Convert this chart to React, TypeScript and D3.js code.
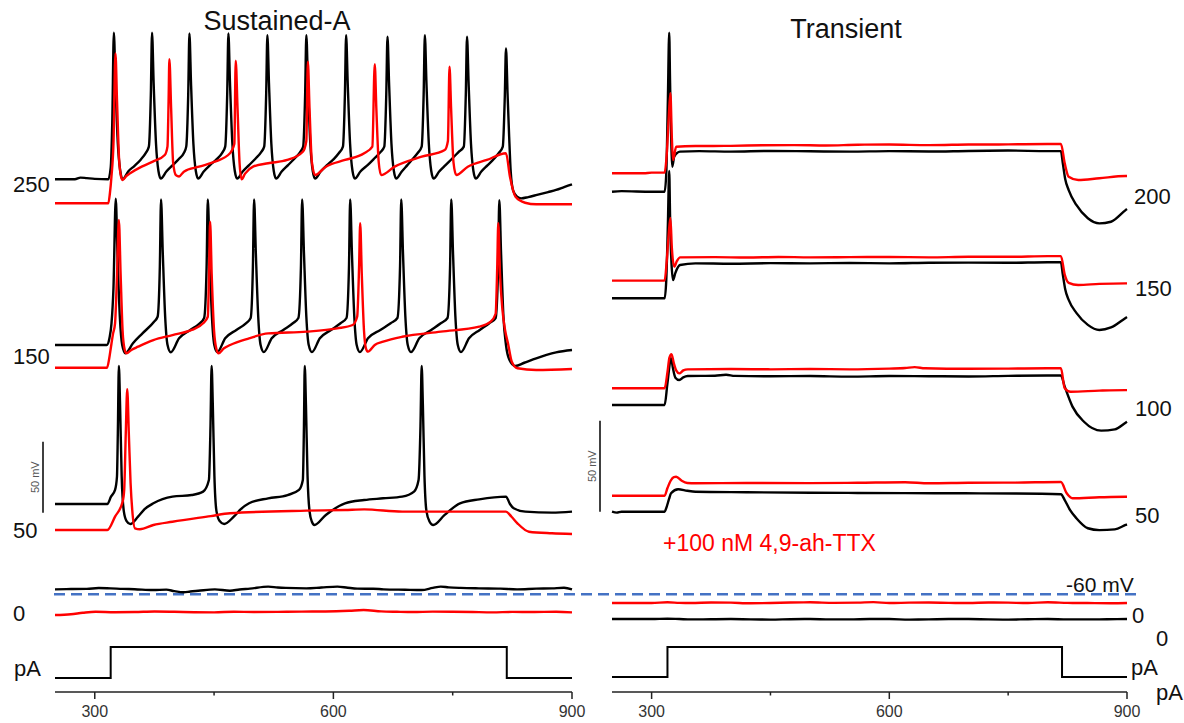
import React from "react";
import * as d3 from "d3";

type Pt = [number, number];

// ---- time axis (ms) ----
const timeDomain: [number, number] = [250, 900];
const majorTicks = [300, 600, 900];
const minorTicks = [450, 750];

// ---- current step (pA) ----
const stepLeft: Pt[] = [[250, 0], [320, 0], [320, 250], [818, 250], [818, 0], [900, 0]];
const stepRight: Pt[] = [[250, 0], [320, 0], [320, 200], [818, 200], [818, 0], [900, 0]];

// ---- labels ----
const leftSweepLabels = ["250", "150", "50", "0"];
const rightSweepLabels = ["200", "150", "100", "50", "0"];
const titles = ["Sustained-A", "Transient"];
const drugLabel = "+100 nM 4,9-ah-TTX";
const restLabel = "-60 mV";
const scaleBarMV = 50;

// ---- Sustained-A traces: [ms, mV relative to sweep offset] ----
const sustBlack250: Pt[] = [
  [250, 0], [275, 0], [282, 1.2], [290, 0.8], [300, 0.3], [317, 0], [320, 8], [322, 40], [324, 103.2],
  [326, 68], [329, 25], [332, 6], [335, 0],
  [342, 5.5], [350, 9.5], [358, 14], [364, 18.5], [368, 23], [370.5, 60], [372, 103.2],
  [374, 68], [377, 25], [380, 6], [383, 0.5],
  [390, 5.5], [398, 10], [406, 14.5], [412, 18.5], [415, 23], [417.5, 60], [419, 102.7],
  [421, 68], [424, 25], [427, 6], [430, 0.5],
  [437, 5.5], [445, 10], [453, 14], [460, 18.5], [464, 23], [466.5, 60], [468, 102.7],
  [470, 68], [473, 25], [476, 6], [479, 0.5],
  [486, 5.5], [494, 10], [502, 14.5], [509, 19], [513, 23], [515.5, 60], [517, 101.5],
  [519, 68], [522, 25], [525, 6], [528, 0.5],
  [535, 5.5], [543, 10], [551, 14.5], [558, 19], [562, 23], [564.5, 60], [566, 101.5],
  [568, 68], [571, 25], [574, 6], [577, 0.5],
  [584, 5.5], [592, 10], [600, 14], [607, 18.5], [612, 23], [614.5, 60], [616, 101.5],
  [618, 68], [621, 25], [624, 6], [627, 0.5],
  [634, 5.5], [643, 10], [652, 15], [659, 19], [664, 23], [666.5, 60], [668, 100.4],
  [670, 68], [673, 25], [676, 6], [679, 0.5],
  [686, 5.5], [693, 10], [700, 14.5], [706, 18.5], [711, 23], [713.5, 60], [715, 101.5],
  [717, 68], [720, 25], [723, 6], [726, 0.5],
  [733, 5.5], [741, 10], [750, 15], [757, 19], [764, 23], [766.5, 60], [768, 100.4],
  [770, 68], [773, 25], [776, 6], [779, 0.5],
  [786, 5.5], [794, 10], [802, 14.5], [808, 18.5], [813, 23], [815.5, 58], [817, 92.2],
  [819, 60], [821, 30], [823, 5], [826, -8], [831, -12.3], [836, -13.4], [845, -12.5],
  [856, -11], [870, -9], [880, -7.5], [890, -5.5], [900, -3.5],
];
const sustRed250: Pt[] = [
  [250, -16.9], [290, -16.9], [317, -16.9], [319, -10], [321, 2], [323.5, 25], [326, 88.7],
  [328, 55], [330.5, 15], [333, 2], [335, -0.5],
  [340, 2.5], [344.4, 4.2], [359, 8.9], [373, 12.4], [388, 17.1], [391.4, 23], [392.8, 55], [393.8, 84.5],
  [396, 50], [398.5, 12], [402, 3], [406, 2], [412, 5.4], [431, 8.9], [451, 12.4], [470, 18.3], [475.5, 25], [477.2, 83.5],
  [479.5, 50], [482, 12], [484.5, 0], [489, 4], [499, 8.9], [518, 11.3], [542, 13.6], [561.6, 19.4], [566, 27], [567.9, 82.8],
  [570, 50], [573, 12], [577, 3], [590.5, 8.9], [614.6, 13.6], [638.7, 18.3], [649, 23], [652, 81],
  [654, 50], [657, 12], [660, 3], [677, 8.9], [711, 15.9], [740, 20.6], [744, 27], [746, 79.3],
  [748, 50], [751, 12], [754.5, 3], [769, 8.9], [793, 13.6], [817, 18.3], [822, 1.8], [829, -12.3],
  [841, -16.5], [855, -17.6], [900, -17.6],
];
const sustBlack150: Pt[] = [
  [250, 0], [300, 0], [315, 0], [318.5, 5], [321, 15], [323.5, 40], [326.4, 103],
  [328.5, 65], [331.5, 20], [334.5, 0], [338.5, -5.8],
  [348, 1.2], [360, 8.2], [374.5, 16.4], [379, 19.9], [381.8, 55], [383.3, 102.5],
  [385.5, 65], [388.5, 20], [391.5, 0], [395.5, -5.1], [406, 4.7], [420, 10.6], [432, 15.3], [437.5, 19], [440.6, 55], [442.1, 102.5],
  [444.3, 65], [447.3, 20], [450.3, 0], [454, -5], [464, 4.7], [478, 10.6], [490, 15.3], [496, 19], [498.8, 55], [500.3, 102.5],
  [502.5, 65], [505.5, 20], [508.5, 0], [512.5, -5], [522.5, 4.7], [537, 10.6], [549, 15.3], [556, 19], [559.2, 55], [560.7, 102.5],
  [563, 65], [566, 20], [569, 0], [573, -5], [583, 4.7], [597, 10.6], [609, 15.3], [616.5, 19], [619.6, 55], [621.1, 102.5],
  [623.3, 65], [626.3, 20], [629.3, 0], [633.3, -5], [643.5, 4.7], [659, 10.6], [672, 15.3], [680.5, 19], [683.8, 55], [685.3, 102.5],
  [687.5, 65], [690.5, 20], [693.5, 0], [697.5, -5], [708, 4.7], [723, 10.6], [735, 15.3], [743.5, 19], [746.7, 55], [748.2, 102.5],
  [750.4, 65], [753.4, 20], [756.4, 0], [760.4, -5], [770.5, 4.7], [784, 10.6], [796, 15.3], [804, 19], [807.1, 55], [808.6, 102],
  [810.8, 65], [813.8, 20], [817, 0], [821, -10], [828.7, -14.8], [840, -12.5], [855, -9.4], [868, -7], [880, -5.2], [900, -3.5],
];
const sustRed150: Pt[] = [
  [250, -16], [300, -16], [315.4, -16], [318, -10], [320.4, -1.2], [323, 8], [325.5, 15.3], [328, 50], [330.3, 88],
  [332.5, 50], [335, 10], [337.5, -3], [339.8, -5.9], [346, -3.5], [354.4, -1.2], [373.7, 3.5], [397.7, 7], [421.8, 10.6],
  [436.2, 15.3], [442.1, 19.9], [443.8, 55], [445, 86.8],
  [447, 50], [450, 10], [453, -3], [455.6, -5.9], [462, -2.5], [470.2, 0], [494, 4.7], [518, 8.2], [566.4, 9.4], [604.7, 11.7],
  [624.2, 14.1], [629.9, 19.9], [632.3, 55], [633.7, 85.7],
  [635.7, 50], [638.5, 10], [641, -2.5], [643.5, -4.7], [652, 0], [662.6, 2.3], [686.5, 5.8], [735, 9.4], [783.4, 12.9],
  [797.7, 16.4], [804, 22], [806, 55], [807.3, 85.7],
  [809.5, 50], [812.5, 25], [816, 10], [819.5, 1.2], [824.3, -11.8], [831.4, -16.4], [855, -17.6], [900, -16.9],
];
const sustBlack50: Pt[] = [
  [250, 0], [280, 0], [315.8, 0], [320.4, 5.2], [325.5, 9.9], [327.9, 19.2], [329, 50], [330.3, 97.2],
  [331.8, 70], [333.8, 20], [336.5, -5], [340, -12], [344.7, -14.1], [354.4, -8.9], [363, -3.5], [373.7, 0.5], [397.7, 5.2],
  [421.8, 6.3], [436.2, 8.7], [443.5, 16.9], [445.5, 55], [446.9, 97.2],
  [448.4, 70], [450.4, 20], [453, -5], [457, -12], [462.7, -14.1], [474.8, -8.9], [484, -3.5], [494, 0.5], [518, 4],
  [542.4, 6.3], [556.8, 9.9], [561.6, 16.9], [563, 55], [564, 97.2],
  [565.5, 70], [567.5, 20], [570, -5], [573, -12.5], [576.1, -14.8], [590.5, -7.7], [614.6, 0.5], [638.7, 2.8], [662.6, 4],
  [686.5, 5.2], [701.4, 8.7], [707.1, 16.9], [709.5, 55], [711, 97.2],
  [712.5, 70], [714.5, 20], [717, -5], [721, -12.5], [725.5, -14.8], [739.9, -7.7], [759.2, 0.5], [783.4, 3.3], [817, 5.2],
  [822, 0], [826.7, -3], [841.3, -5.4], [874.8, -6.1], [900, -5.4],
];
const sustRed50: Pt[] = [
  [250, -18.3], [300, -18.3], [315.8, -18.3], [325.5, -8.9], [335, 1.6], [337, 10], [339, 50], [340.8, 80.8],
  [342.8, 50], [345, 15], [347.1, -4.2], [350.5, -17.1], [356.7, -17.8], [373.7, -14.8], [397.7, -12.5], [445.9, -8.5],
  [470, -6.5], [566.4, -4.7], [614.6, -4.2], [638.7, -3.8], [686.5, -5.4], [759.2, -5.4], [817, -5.4], [824, -9],
  [831.4, -13.6], [845.9, -19.5], [874.8, -20.6], [900, -21.1],
];
// 0 pA sweeps, mV relative to -60 mV
const sustBlack0: Pt[] = [
  [250, 3.5], [270, 3.7], [290, 3.8], [305, 4.4], [320, 4.2], [335, 3.8], [350, 3.6], [373, 3], [390, 3.3], [400, 2.2],
  [412, 1.4], [420, 2], [430, 2.5], [451, 3.5], [470, 2.5], [482, 3.4], [495, 4], [518, 5.4], [530, 4.8], [540, 4.5],
  [566, 4.2], [585, 4.8], [605, 5.4], [618, 4.6], [630, 4], [650, 3.9], [663, 3.5], [690, 3.2], [711, 3], [725, 4.5],
  [735, 5.4], [745, 4.9], [760, 4.5], [783, 4.2], [810, 4], [831, 3.5], [855, 4], [875, 4.2], [890, 4.6], [900, 3.5],
];
const sustRed0: Pt[] = [
  [250, -14.6], [270, -14], [285, -13], [301, -12.3], [325, -12.6], [350, -12.5], [375, -12.1], [400, -12.3],
  [425, -12.6], [450, -12.7], [475, -12.3], [500, -12.5], [530, -12.4], [560, -12.2], [590, -12.1], [620, -11.6],
  [638, -11.1], [660, -12], [680, -12.3], [700, -12.5], [725, -12.2], [750, -12.3], [775, -12.5], [800, -12.7],
  [825, -12.4], [850, -12.5], [880, -12.3], [900, -12.7],
];

// ---- Transient traces ----
const transBlack200: Pt[] = [
  [250, 0], [262, 0.3], [300, 0], [316.4, 0], [318.5, 10], [320.5, 50], [322.2, 87.4], [323.3, 60], [324.2, 39.4],
  [326.1, 13.7], [328.5, 19.2], [335.9, 22], [360, 22.3], [400, 22], [450, 22.4], [500, 22.2], [550, 22], [600, 22.3],
  [650, 22.1], [700, 22.4], [750, 22.6], [800, 22.3], [816.6, 22.3], [819, 15.6], [822, 7], [826.4, 0.9], [836.1, -7.3],
  [850.6, -14.6], [865.1, -17.4], [879.8, -16.5], [898.2, -10.1], [900, -9.5],
];
const transRed200: Pt[] = [
  [250, 10.1], [290, 10.1], [300, 10.5], [316.4, 10.5], [319, 20], [321.5, 40], [323.7, 54.1], [325.5, 30], [327.1, 17.4],
  [331, 24.7], [355.3, 25.1], [400, 25.2], [440, 25.5], [480, 25.6], [520, 25.4], [560, 25.8], [600, 25.9], [650, 25.6],
  [700, 25.9], [750, 26], [800, 26.2], [816.6, 26.2], [821.4, 15.6], [826.4, 8.2], [838.4, 6.4], [865.1, 7.4],
  [898.2, 8.6], [900, 8.6],
];
const transBlack150: Pt[] = [
  [250, 0], [300, 0], [316.4, 0], [318.5, 10], [320.5, 40], [322.2, 70], [323.3, 45], [325, 20], [327.1, 10], [330, 14],
  [335.9, 18.3], [355.3, 19.2], [400, 19], [450, 19.3], [500, 19.2], [550, 19.4], [600, 19.2], [650, 19.5], [700, 19.6],
  [750, 19.5], [800, 19.8], [816.6, 19.8], [819, 13], [822, 5], [826.4, -0.9], [836.1, -8], [850.6, -14.6], [865.1, -17.4],
  [879.8, -16], [898.2, -10.8], [900, -10.3],
];
const transRed150: Pt[] = [
  [250, 9.7], [300, 9.7], [316.4, 9.7], [319, 20], [321.5, 35], [323.7, 44.1], [325.5, 28], [328.5, 17.4], [332, 20.5],
  [335.9, 22.5], [380, 22.6], [420, 22.4], [460, 22.7], [500, 22.5], [550, 22.6], [600, 22.7], [650, 22.5], [700, 22.8],
  [750, 22.8], [800, 23.2], [816.6, 23.2], [821.4, 13], [826.4, 8.5], [838.4, 7.3], [865.1, 7.9], [898.2, 8.2], [900, 8.2],
];
const transBlack100: Pt[] = [
  [250, 0], [300, 0], [316.4, 0], [320, 12], [324.5, 25.7], [327, 20], [330, 15], [334.9, 13.7], [340, 15.2], [345.6, 15.9],
  [380, 16.1], [394, 16.6], [405, 16], [450, 15.8], [500, 15.9], [550, 15.6], [600, 15.9], [650, 15.8], [700, 15.7],
  [750, 16], [800, 16.2], [816.6, 16.2], [821.4, 10.1], [831.2, -0.9], [845.7, -9.2], [867.4, -14.1], [884.6, -13.4],
  [898.2, -9.7], [900, -9.2],
];
const transRed100: Pt[] = [
  [250, 9.2], [300, 9.2], [316.4, 9.2], [320, 18], [322.5, 26], [325.1, 27.9], [328, 23], [331, 19], [334.9, 17.4],
  [340, 19], [345.6, 19.6], [400, 19.8], [450, 19.6], [500, 19.8], [550, 19.6], [600, 20], [620, 20.3], [632, 20.8],
  [645, 20.2], [700, 19.9], [750, 20], [800, 20.2], [816.6, 20.2], [821.4, 9.2], [828.8, 7.3], [865.1, 7.9],
  [898.2, 8.2], [900, 8.2],
];
const transBlack50: Pt[] = [
  [250, 0], [256, -0.5], [262, 0], [300, 0], [316.4, 0], [319, 2.7], [322, 7], [324.5, 10.1], [333.5, 12.3], [345, 11.5],
  [355.3, 11], [420, 10.7], [501, 10.4], [560, 10.3], [620, 10.2], [695.2, 10.1], [760, 10], [816.6, 9.6], [821.4, 6.4],
  [828, 1], [836.1, -3.6], [850.6, -9.1], [865.1, -10.1], [884.6, -9.7], [898.2, -7.3], [900, -7],
];
const transRed50: Pt[] = [
  [250, 8.8], [300, 8.8], [316.4, 8.8], [320, 13], [324, 17], [328, 19], [331, 19.2], [338, 17], [345, 15.8], [355.3, 15.6],
  [420, 15.8], [500, 15.7], [560, 15.9], [620, 16.2], [650, 15.6], [700, 15.9], [760, 16], [816.6, 16.3], [823.9, 10.1],
  [831.2, 7.4], [865.1, 7.9], [898.2, 8.2], [900, 8.2],
];
const transRed0: Pt[] = [
  [250, -4.8], [280, -4.8], [300, -4.8], [320, -4.4], [335, -4.7], [350, -4.8], [375, -4.5], [400, -4.6], [425, -4.9],
  [450, -4.8], [475, -4.5], [500, -4.4], [530, -4.7], [560, -4.6], [580, -4.3], [600, -4.8], [625, -4.6], [650, -4.5],
  [675, -4.7], [700, -4.8], [725, -4.5], [750, -4.6], [775, -4.8], [800, -4.4], [825, -4.7], [850, -4.8], [880, -4.9],
  [900, -4.8],
];
const transBlack0: Pt[] = [
  [250, -13.6], [280, -13.6], [300, -13.6], [320, -13.4], [335, -13.6], [350, -13.8], [375, -13.7], [400, -13.6],
  [425, -13.8], [450, -13.9], [475, -13.7], [500, -13.6], [525, -13.8], [550, -13.8], [575, -13.6], [600, -13.6],
  [625, -13.9], [650, -13.8], [675, -13.6], [700, -13.6], [725, -13.8], [750, -13.9], [775, -13.7], [800, -13.6],
  [825, -13.8], [850, -13.8], [875, -13.7], [900, -13.6],
];

const BLACK = "#000000";
const RED = "#ff0000";
const BLUE = "#4472c4";
const FONT = "'Liberation Sans', Arial, Helvetica, sans-serif";

interface Sweep { data: Pt[]; color: string; anchor: number }

function Panel(props: {
  x0: number; x1: number; k: number; sweeps: Sweep[]; step: Pt[]; stepMax: number;
  stepTop: number; stepBase: number; axisY: number;
}) {
  const { x0, x1, k, sweeps, step, stepMax, stepTop, stepBase, axisY } = props;
  const x = d3.scaleLinear().domain(timeDomain).range([x0, x1]);
  const stepY = d3.scaleLinear().domain([0, stepMax]).range([stepBase, stepTop]);
  const stepLine = d3.line<Pt>().x((d) => x(d[0])).y((d) => stepY(d[1]));
  return (
    <g>
      {sweeps.map((s, i) => {
        const y = d3.scaleLinear().domain([0, 50]).range([s.anchor, s.anchor - 50 * k]);
        const line = d3.line<Pt>().x((d) => x(d[0])).y((d) => y(d[1])).curve(d3.curveMonotoneX);
        return (
          <path key={i} d={line(s.data) || ""} fill="none" stroke={s.color} strokeWidth={2.4}
            strokeLinejoin="round" />
        );
      })}
      <path d={stepLine(step) || ""} fill="none" stroke={BLACK} strokeWidth={2} />
      <line x1={x(timeDomain[0])} x2={x(timeDomain[1])} y1={axisY} y2={axisY} stroke="#222" strokeWidth={1.5} />
      {majorTicks.map((t) => (
        <g key={"M" + t}>
          <line x1={x(t)} x2={x(t)} y1={axisY} y2={axisY + 7} stroke="#222" strokeWidth={1.5} />
          <text x={x(t)} y={axisY + 19} textAnchor="middle" dominantBaseline="central" fontSize={16}
            fill="#333" fontFamily={FONT}>{t}</text>
        </g>
      ))}
      {minorTicks.map((t) => (
        <line key={"m" + t} x1={x(t)} x2={x(t)} y1={axisY} y2={axisY + 3.5} stroke="#222" strokeWidth={1.5} />
      ))}
    </g>
  );
}

export default function App() {
  const kL = 71 / 50;
  const kR = 91 / 50;
  const leftSweeps: Sweep[] = [
    { data: sustBlack250, color: BLACK, anchor: 179.3 },
    { data: sustRed250, color: RED, anchor: 179.3 },
    { data: sustBlack150, color: BLACK, anchor: 345 },
    { data: sustRed150, color: RED, anchor: 345 },
    { data: sustBlack50, color: BLACK, anchor: 504 },
    { data: sustRed50, color: RED, anchor: 504 },
    { data: sustBlack0, color: BLACK, anchor: 594.3 },
    { data: sustRed0, color: RED, anchor: 594.3 },
  ];
  const rightSweeps: Sweep[] = [
    { data: transBlack200, color: BLACK, anchor: 191.7 },
    { data: transRed200, color: RED, anchor: 191.7 },
    { data: transBlack150, color: BLACK, anchor: 298.3 },
    { data: transRed150, color: RED, anchor: 298.3 },
    { data: transBlack100, color: BLACK, anchor: 405 },
    { data: transRed100, color: RED, anchor: 405 },
    { data: transBlack50, color: BLACK, anchor: 511.7 },
    { data: transRed50, color: RED, anchor: 511.7 },
    { data: transBlack0, color: BLACK, anchor: 594.3 },
    { data: transRed0, color: RED, anchor: 594.3 },
  ];
  const leftLabelY = [184, 356.7, 530, 613];
  const rightLabelPos: [number, number][] = [[1134, 196.7], [1135, 288.3], [1135, 408.3], [1135, 515], [1132, 615]];
  const lbl = { fontSize: 22, fontFamily: FONT, fill: "#111", dominantBaseline: "central" as const };
  return (
    <svg width={1184} height={723} style={{ position: "absolute", left: 0, top: 0, background: "#fff" }}>
      <rect x={0} y={0} width={1184} height={723} fill="#fff" />
      <text x={277} y={30} textAnchor="middle" fontSize={27} fontFamily={FONT} fill="#111">{titles[0]}</text>
      <text x={846} y={38} textAnchor="middle" fontSize={27} fontFamily={FONT} fill="#111">{titles[1]}</text>

      {/* -60 mV reference */}
      <line x1={54} x2={1137} y1={594.3} y2={594.3} stroke={BLUE} strokeWidth={2.5} strokeDasharray="11 6" />
      <text x={1066} y={584} {...lbl} fontSize={21}>{restLabel}</text>

      <Panel x0={55} x1={572} k={kL} sweeps={leftSweeps} step={stepLeft} stepMax={250}
        stepTop={647} stepBase={678} axisY={692} />
      <Panel x0={612} x1={1127} k={kR} sweeps={rightSweeps} step={stepRight} stepMax={200}
        stepTop={647} stepBase={677} axisY={692} />

      {leftSweepLabels.map((s, i) => (
        <text key={"l" + s} x={13} y={leftLabelY[i]} {...lbl}>{s}</text>
      ))}
      <text x={14} y={668} {...lbl}>pA</text>
      {rightSweepLabels.map((s, i) => (
        <text key={"r" + s} x={rightLabelPos[i][0]} y={rightLabelPos[i][1]} {...lbl}>{s}</text>
      ))}
      <text x={1156} y={638} {...lbl}>0</text>
      <text x={1131} y={667} {...lbl}>pA</text>
      <text x={1156} y={692} {...lbl}>pA</text>

      {/* scale bars */}
      <line x1={43} x2={43} y1={512.7} y2={512.7 - scaleBarMV * kL} stroke={BLACK} strokeWidth={1.5} />
      <text transform={`translate(34.5,${512.7 - (scaleBarMV * kL) / 2}) rotate(-90)`} textAnchor="middle"
        dominantBaseline="central" fontSize={11} fill="#555" fontFamily={FONT}>{scaleBarMV} mV</text>
      <line x1={600} x2={600} y1={511.7} y2={511.7 - scaleBarMV * kR} stroke={BLACK} strokeWidth={1.5} />
      <text transform={`translate(592,${511.7 - (scaleBarMV * kR) / 2}) rotate(-90)`} textAnchor="middle"
        dominantBaseline="central" fontSize={11} fill="#555" fontFamily={FONT}>{scaleBarMV} mV</text>

      <text x={663} y={543} fontSize={23} fill={RED} fontFamily={FONT} dominantBaseline="central">{drugLabel}</text>
    </svg>
  );
}
